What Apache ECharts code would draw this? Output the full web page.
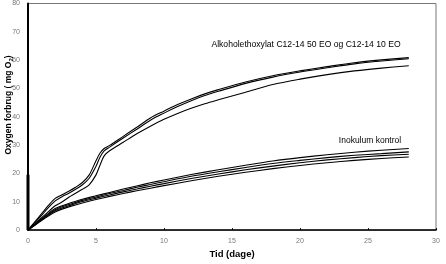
<!DOCTYPE html>
<html><head><meta charset="utf-8">
<script src="https://cdn.jsdelivr.net/npm/echarts@6/dist/echarts.min.js"></script>
<style>html,body{margin:0;padding:0;background:#fff}#c{width:446px;height:264px}</style>
</head><body><div id="c"></div>
<script>
const xTicks = [0, 5, 10, 15, 20, 25, 30];
const yTicks = [0, 10, 20, 30, 40, 50, 60, 70, 80];
const daysA = [0,0.5,1,1.5,2,2.5,3,3.5,4,4.5,5,5.3,5.6,6,7,8,9,10,11,12,13,14,16,18,20,22,24,26,28];
const a1 = [0,2.9,5.8,8.7,11.2,12.5,13.7,15.1,16.8,19.5,24.5,27.2,28.8,29.9,33.1,36.3,39.6,42.0,44.3,46.3,48.1,49.6,52.3,54.5,56.2,57.7,59.1,60.1,60.9];
const a2 = [0,2.6,5.2,7.9,10.3,11.8,13.0,14.4,16.0,18.3,22.5,25.8,28.0,29.3,32.5,35.6,38.8,41.3,43.6,45.7,47.5,49.0,51.8,54.0,55.8,57.3,58.7,59.7,60.5];
const a3 = [0,2.2,4.4,6.5,8.6,9.9,11.6,13.0,14.4,16.0,19.5,23.0,26.2,28.0,31.0,34.0,36.7,39.1,41.2,43.0,44.6,46.0,48.7,51.4,53.3,54.9,56.2,57.2,58.0];
const daysB = [0,0.5,1,1.5,2,2.5,3,4,5,6,7,8,9,10,12,14,16,18,20,22,24,26,28];
const b1 = [0,2.0,4.0,5.9,7.6,8.6,9.4,10.9,12.1,13.3,14.5,15.6,16.7,17.7,19.6,21.3,22.9,24.4,25.6,26.6,27.5,28.2,28.8];
const b2 = [0,1.9,3.8,5.6,7.2,8.2,9.0,10.5,11.7,12.9,14.0,15.1,16.1,17.1,19.0,20.6,22.1,23.5,24.6,25.6,26.4,27.0,27.6];
const b3 = [0,1.8,3.6,5.3,6.8,7.8,8.6,10.1,11.3,12.4,13.5,14.5,15.5,16.4,18.2,19.8,21.3,22.6,23.8,24.8,25.6,26.3,26.8];
const b4 = [0,1.7,3.4,5.0,6.4,7.4,8.2,9.6,10.8,11.9,12.9,13.9,14.8,15.7,17.4,19.0,20.4,21.7,22.8,23.8,24.6,25.3,25.8];
const startBar = [[0,0],[0,19.5]];
const labelA = 'Alkoholethoxylat C12-14 50 EO og C12-14 10 EO';
const labelB = 'Inokulum kontrol';
const xName = 'Tid (dage)';

const pair = (xs, ys) => xs.map((x, i) => [x, ys[i]]);
const mk = (xs, ys) => ({type:'line', data: pair(xs, ys), smooth: 0.3, showSymbol:false, symbol:'none',
  lineStyle:{color:'#000', width:1.1}, silent:true});
const chart = echarts.init(document.getElementById('c'), null, {renderer:'canvas'});
const FONT = 'Liberation Sans, Arial, sans-serif';
chart.setOption({
  animation:false,
  grid:{left:28, right:10, top:3, bottom:33, show:true, borderColor:'#777', borderWidth:1, backgroundColor:'transparent'},
  xAxis:{type:'value', min:0, max:30, interval:5, name:xName, nameLocation:'middle', nameGap:10,
    nameTextStyle:{fontFamily:FONT, fontSize:9.5, fontWeight:'bold', color:'#000'},
    axisLine:{lineStyle:{color:'#000', width:1.5}}, axisTick:{show:true, inside:true, length:2, lineStyle:{color:'#000'}}, splitLine:{show:false},
    axisLabel:{fontFamily:FONT, fontSize:7, color:'#777', margin:7}},
  yAxis:{type:'value', min:0, max:80, interval:10,
    axisLine:{show:true, lineStyle:{color:'#000', width:2}}, axisTick:{show:false}, splitLine:{show:false},
    axisLabel:{fontFamily:FONT, fontSize:7, color:'#777', margin:8}},
  graphic:[
    {type:'text', x:9, y:105, rotation:Math.PI/2, style:{text:'Oxygen forbrug ( mg O{s|2})', fontFamily:FONT, fontSize:8.5, fontWeight:'bold', fill:'#000', align:'center', verticalAlign:'middle',
      rich:{s:{fontSize:6, fontWeight:'bold', fontFamily:FONT, padding:[4,0,0,0]}}}},
    {type:'text', x:306, y:45, style:{text:labelA, fontFamily:FONT, fontSize:8.6, fill:'#000', align:'center', verticalAlign:'middle'}},
    {type:'text', x:370, y:141, style:{text:labelB, fontFamily:FONT, fontSize:8.5, fill:'#000', align:'center', verticalAlign:'middle'}}
  ],
  series:[mk(daysA,a1), mk(daysA,a2), mk(daysA,a3), mk(daysB,b1), mk(daysB,b2), mk(daysB,b3), mk(daysB,b4),
    {type:'line', data:startBar, showSymbol:false, symbol:'none', lineStyle:{color:'#000', width:3}, silent:true}]
});
</script></body></html>
